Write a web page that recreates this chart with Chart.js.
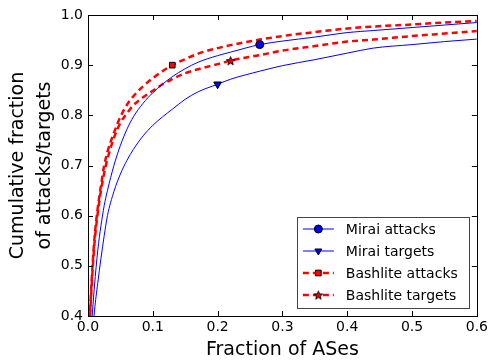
<!DOCTYPE html>
<html>
<head>
<meta charset="utf-8">
<script src="https://cdn.jsdelivr.net/npm/chart.js@4/dist/chart.umd.min.js"></script>
<style>
  html, body { margin: 0; padding: 0; background: #fff; }
  #wrap { width: 491px; height: 362px; }
</style>
</head>
<body>
<div id="wrap"><canvas id="cdfChart" width="491" height="362"></canvas></div>
<script>
// ===== DATA =====
const fractionASes = [0.002, 0.004, 0.007, 0.01, 0.015, 0.02, 0.025, 0.03, 0.04, 0.05, 0.06, 0.07, 0.085, 0.1,
  0.115, 0.13, 0.15, 0.17, 0.2, 0.22, 0.265, 0.3, 0.35, 0.4, 0.44, 0.5, 0.55, 0.6];

const miraiAttacks = [0.30, 0.35, 0.41, 0.46, 0.53, 0.58, 0.62, 0.65, 0.70, 0.74, 0.772, 0.797, 0.824, 0.845,
  0.862, 0.877, 0.893, 0.906, 0.919, 0.926, 0.941, 0.948, 0.956, 0.965, 0.969, 0.975, 0.980, 0.985];
const miraiTargets = [0.22, 0.29, 0.36, 0.41, 0.465, 0.515, 0.56, 0.60, 0.648, 0.683, 0.71, 0.732, 0.759, 0.780,
  0.797, 0.812, 0.832, 0.847, 0.862, 0.872, 0.888, 0.899, 0.911, 0.924, 0.934, 0.941, 0.947, 0.952];
const bashliteAttacks = [0.37, 0.43, 0.50, 0.555, 0.615, 0.66, 0.70, 0.727, 0.765, 0.797, 0.821, 0.838, 0.858, 0.874,
  0.888, 0.900, 0.912, 0.923, 0.934, 0.940, 0.951, 0.958, 0.966, 0.973, 0.977, 0.981, 0.985, 0.988];
const bashliteTargets = [0.36, 0.42, 0.49, 0.545, 0.605, 0.65, 0.685, 0.713, 0.755, 0.785, 0.804, 0.82, 0.836, 0.849,
  0.862, 0.872, 0.884, 0.892, 0.902, 0.909, 0.920, 0.929, 0.938, 0.947, 0.951, 0.958, 0.963, 0.968];

// x position of the single marker on each curve
const markerAt = { miraiAttacks: 0.265, miraiTargets: 0.2, bashliteAttacks: 0.13, bashliteTargets: 0.22 };

const xTicks = [0.0, 0.1, 0.2, 0.3, 0.4, 0.5, 0.6];
const yTicks = [0.4, 0.5, 0.6, 0.7, 0.8, 0.9, 1.0];

// ===== HELPERS =====
function toPoints(ys) {
  return fractionASes.map((x, i) => ({ x: x, y: ys[i] }));
}

function markerRadius(x0, r) {
  return fractionASes.map(x => (Math.abs(x - x0) < 1e-9 ? r : 0));
}

// five-pointed star marker (Chart.js 'star' is an asterisk)
function makeStar(size, fill) {
  const c = document.createElement('canvas');
  c.width = size; c.height = size;
  const g = c.getContext('2d');
  const cx = size / 2, cy = size / 2 + 0.5, R = size / 2 - 1, r = R * 0.42;
  g.beginPath();
  for (let k = 0; k < 10; k++) {
    const a = -Math.PI / 2 + k * Math.PI / 5;
    const rad = k % 2 === 0 ? R : r;
    g.lineTo(cx + rad * Math.cos(a), cy + rad * Math.sin(a));
  }
  g.closePath();
  g.fillStyle = fill;
  g.fill();
  g.strokeStyle = '#000';
  g.lineWidth = 1;
  g.stroke();
  return c;
}

const starImg = makeStar(11, '#ff0000');

Chart.defaults.font.family = "'DejaVu Sans', sans-serif";
Chart.defaults.color = '#000';

// ===== FRAME + INWARD TICKS =====
const framePlugin = {
  id: 'frame',
  afterDraw(chart) {
    const ctx = chart.ctx;
    const a = chart.chartArea;
    const xs = chart.scales.x, ys = chart.scales.y;
    ctx.save();
    ctx.strokeStyle = '#000';
    ctx.lineWidth = 1;
    ctx.beginPath();
    xTicks.forEach(v => {
      const px = Math.round(xs.getPixelForValue(v)) + 0.5;
      ctx.moveTo(px, a.bottom); ctx.lineTo(px, a.bottom - 5);
      ctx.moveTo(px, a.top); ctx.lineTo(px, a.top + 5);
    });
    yTicks.forEach(v => {
      const py = Math.round(ys.getPixelForValue(v)) + 0.5;
      ctx.moveTo(a.left, py); ctx.lineTo(a.left + 5, py);
      ctx.moveTo(a.right, py); ctx.lineTo(a.right - 5, py);
    });
    ctx.stroke();
    ctx.strokeRect(Math.round(a.left) + 0.5, Math.round(a.top) + 0.5,
      Math.round(a.right - a.left), Math.round(a.bottom - a.top));
    ctx.restore();
  }
};

// ===== LEGEND INSIDE PLOT (lower right) =====
const legendPlugin = {
  id: 'boxLegend',
  afterDraw(chart) {
    const ctx = chart.ctx;
    const a = chart.chartArea;
    const boxW = 172, boxH = 91, rowH = 22;
    const bx = a.right - 8 - boxW, by = a.bottom - 8 - boxH;
    ctx.save();
    ctx.fillStyle = '#fff';
    ctx.fillRect(bx, by, boxW, boxH);
    ctx.strokeStyle = '#444';
    ctx.lineWidth = 1;
    ctx.strokeRect(Math.round(bx) + 0.5, Math.round(by) + 0.5, boxW, boxH);
    ctx.font = "14px 'DejaVu Sans'";
    ctx.textBaseline = 'middle';
    chart.data.datasets.forEach((ds, i) => {
      const cy = by + 12 + i * rowH;
      const x1 = bx + 6, x2 = bx + 37;
      ctx.save();
      ctx.strokeStyle = ds.borderColor;
      ctx.lineWidth = ds.borderWidth;
      ctx.setLineDash(ds.borderDash || []);
      ctx.beginPath();
      ctx.moveTo(x1, cy); ctx.lineTo(x2, cy);
      ctx.stroke();
      ctx.restore();
      ctx.save();
      ctx.fillStyle = ds.pointBackgroundColor;
      ctx.strokeStyle = '#000';
      ctx.lineWidth = 1;
      Chart.helpers.drawPoint(ctx, {
        pointStyle: ds.pointStyle, radius: 4, rotation: ds.pointRotation || 0, borderWidth: 1
      }, (x1 + x2) / 2, cy);
      ctx.restore();
      ctx.fillStyle = '#000';
      ctx.fillText(ds.label, bx + 49, cy + 1);
    });
    ctx.restore();
  }
};

new Chart(document.getElementById('cdfChart'), {
  type: 'line',
  data: {
    datasets: [{
      label: 'Mirai attacks',
      data: toPoints(miraiAttacks),
      borderColor: '#0000ff',
      borderWidth: 1,
      pointStyle: 'circle',
      pointRadius: markerRadius(markerAt.miraiAttacks, 4),
      pointBackgroundColor: '#0000ff',
      pointBorderColor: '#000',
      pointBorderWidth: 1
    }, {
      label: 'Mirai targets',
      data: toPoints(miraiTargets),
      borderColor: '#0000ff',
      borderWidth: 1,
      pointStyle: 'triangle',
      pointRotation: 180,
      pointRadius: markerRadius(markerAt.miraiTargets, 4.5),
      pointBackgroundColor: '#0000ff',
      pointBorderColor: '#000',
      pointBorderWidth: 1
    }, {
      label: 'Bashlite attacks',
      data: toPoints(bashliteAttacks),
      borderColor: '#ff0000',
      borderWidth: 2.5,
      borderDash: [6, 4],
      pointStyle: 'rect',
      pointRadius: markerRadius(markerAt.bashliteAttacks, 4),
      pointBackgroundColor: '#ff0000',
      pointBorderColor: '#000',
      pointBorderWidth: 1
    }, {
      label: 'Bashlite targets',
      data: toPoints(bashliteTargets),
      borderColor: '#ff0000',
      borderWidth: 2.5,
      borderDash: [6, 4],
      pointStyle: starImg,
      pointRadius: markerRadius(markerAt.bashliteTargets, 5),
      pointBackgroundColor: '#ff0000',
      pointBorderColor: '#000',
      pointBorderWidth: 1
    }]
  },
  options: {
    responsive: false,
    animation: false,
    events: [],
    cubicInterpolationMode: 'monotone',
    layout: { padding: { top: 15, right: 13, left: 0, bottom: 0 } },
    plugins: {
      legend: { display: false },
      tooltip: { enabled: false }
    },
    scales: {
      x: {
        type: 'linear',
        min: 0,
        max: 0.6,
        grid: { display: false, drawTicks: false },
        border: { display: false },
        afterBuildTicks: s => { s.ticks = xTicks.map(v => ({ value: v })); },
        afterFit: s => { s.height = 46; },
        ticks: {
          padding: 3,
          maxRotation: 0,
          font: { size: 14 },
          callback: v => v.toFixed(1)
        },
        title: {
          display: true,
          text: 'Fraction of ASes',
          font: { size: 19 },
          padding: { top: 0, bottom: 1 }
        }
      },
      y: {
        type: 'linear',
        min: 0.4,
        max: 1.0,
        grid: { display: false, drawTicks: false },
        border: { display: false },
        afterBuildTicks: s => { s.ticks = yTicks.map(v => ({ value: v })); },
        afterFit: s => { s.width = 88; },
        ticks: {
          padding: 5,
          font: { size: 14 },
          callback: v => v.toFixed(1)
        },
        title: {
          display: true,
          text: ['Cumulative fraction', 'of attacks/targets'],
          font: { size: 19, lineHeight: 1.4 },
          padding: { top: 5, bottom: 0 }
        }
      }
    }
  },
  plugins: [framePlugin, legendPlugin]
});
</script>
</body>
</html>
